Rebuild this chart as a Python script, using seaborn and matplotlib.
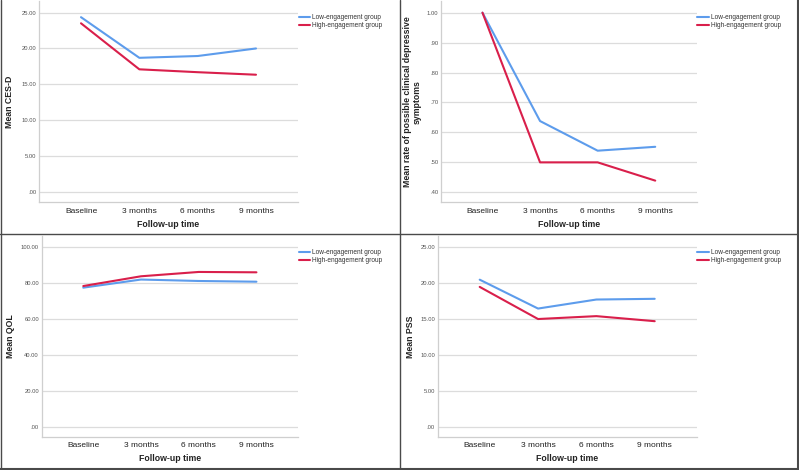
import pandas as pd
import seaborn as sns
import matplotlib.pyplot as plt
import matplotlib.transforms as mtransforms
from matplotlib.lines import Line2D

# Data
times = ["Baseline", "3 months", "6 months", "9 months"]
groups = ["Low-engagement group", "High-engagement group"]

cesd_low = [24.35, 18.7, 18.95, 20.0]
cesd_high = [23.5, 17.1, 16.7, 16.35]

dep_low = [1.00, 0.638, 0.539, 0.552]
dep_high = [1.00, 0.50, 0.50, 0.439]

qol_low = [77.3, 81.8, 81.0, 80.6]
qol_high = [78.2, 83.6, 86.0, 85.8]

pss_low = [20.45, 16.45, 17.7, 17.8]
pss_high = [19.45, 15.0, 15.4, 14.7]

palette = {"Low-engagement group": "#5d9cec", "High-engagement group": "#d91f4b"}

sns.set_theme(style="white")
plt.rcParams['font.family'] = ['Liberation Sans', 'DejaVu Sans']

W, H = 799, 470
fig = plt.figure(figsize=(W / 100, H / 100), dpi=100)


def make_df(low, high):
    rows = []
    for g, vals in zip(groups, [low, high]):
        for t, v in zip(times, vals):
            rows.append({"time": t, "group": g, "value": v})
    return pd.DataFrame(rows)


def add_panel(box, low, high, ylim, yticks, ylabel, label_x):
    left, right, top, bottom = box
    ax = fig.add_axes([left / W, 1 - bottom / H, (right - left) / W, (bottom - top) / H])
    df = make_df(low, high)
    sns.lineplot(data=df, x="time", y="value", hue="group", palette=palette,
                 sort=False, linewidth=1.5, ax=ax)
    ax.set_xlim(-0.72, 3.72)
    ax.set_ylim(*ylim)
    ax.set_yticks(yticks)
    ax.set_yticklabels([("%.2f" % t).lstrip("0") if t < 1 else "%.2f" % t for t in yticks])
    ax.yaxis.grid(True, color="#dcdcdc", linewidth=0.9)
    ax.set_axisbelow(True)
    for s in ["top", "right"]:
        ax.spines[s].set_visible(False)
    for s in ["left", "bottom"]:
        ax.spines[s].set_color("#cfcfcf")
        ax.spines[s].set_linewidth(0.9)
    ax.tick_params(axis="y", length=0, labelsize=4.2, labelcolor="#555555", pad=2)
    ax.tick_params(axis="x", length=0, labelsize=6, labelcolor="#222222", pad=4)
    ax.set_xlabel("Follow-up time", fontsize=6.3, fontweight="bold", color="#222222")
    ax.xaxis.set_label_coords(0.5, -0.11)
    ax.xaxis.label.set_va("center")
    ax.set_ylabel(ylabel, fontsize=6.3, fontweight="bold", color="#222222",
                  linespacing=1.1)
    trans = mtransforms.blended_transform_factory(fig.transFigure, ax.transAxes)
    ax.yaxis.set_label_coords(label_x / W, 0.5, transform=trans)
    ax.legend(loc="upper left", bbox_to_anchor=(1.003, 0.935), frameon=False,
              fontsize=4.7, handlelength=1.7, handletextpad=0.3, labelspacing=0.2,
              borderaxespad=0, borderpad=0, labelcolor="#333333")
    return ax


add_panel((39, 298, 1, 202), cesd_low, cesd_high, (-1.35, 26.6),
          [0, 5, 10, 15, 20, 25], "Mean CES-D", 14.5)
add_panel((441, 696.7, 1, 202.3), dep_low, dep_high, (0.3666, 1.039),
          [0.4, 0.5, 0.6, 0.7, 0.8, 0.9, 1.0],
          "Mean rate of possible clinical depressive\nsymptoms", 421.5)
add_panel((41.7, 298, 236, 436.7), qol_low, qol_high, (-5.2, 105.9),
          [0, 20, 40, 60, 80, 100], "Mean QOL", 15)
add_panel((437.7, 696.7, 236, 436.7), pss_low, pss_high, (-1.3, 26.5),
          [0, 5, 10, 15, 20, 25], "Mean PSS", 414.5)

# panel dividers and outer frame
frame = "#4a4a4a"
fig.add_artist(Line2D([399.5 / W, 399.5 / W], [0, 1], color=frame, linewidth=1.0))
fig.add_artist(Line2D([0, 1], [1 - 234 / H, 1 - 234 / H], color=frame, linewidth=1.0))
fig.add_artist(Line2D([0.5 / W, 0.5 / W], [0, 1], color=frame, linewidth=1.0))
fig.add_artist(Line2D([1 - 1.5 / W, 1 - 1.5 / W], [0, 1], color=frame, linewidth=1.5))
fig.add_artist(Line2D([0, 1], [1.5 / H, 1.5 / H], color=frame, linewidth=1.5))

fig.savefig("out.png", dpi=100)
